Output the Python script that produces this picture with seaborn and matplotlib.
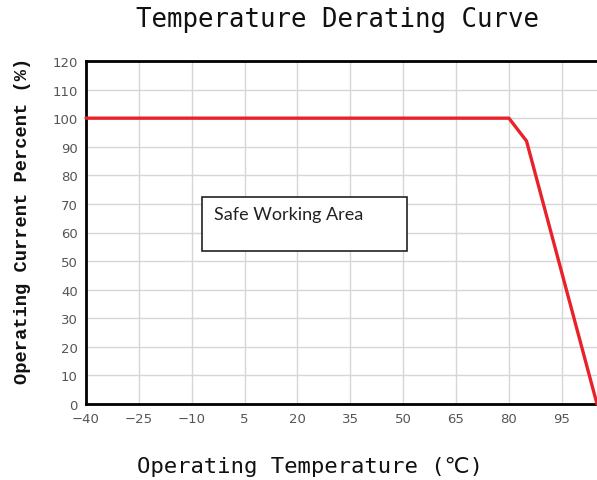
import numpy as np
import pandas as pd
import seaborn as sns
import matplotlib.pyplot as plt
from matplotlib.patches import Rectangle
plt.switch_backend('agg')

# derating curve
temperature = [-40, 80, 85, 105]
current_pct = [100, 100, 92, 0]
x_ticks = [-40, -25, -10, 5, 20, 35, 50, 65, 80, 95]
y_ticks = list(range(0, 121, 10))

df = pd.DataFrame({'Temperature': temperature, 'Current': current_pct})

sns.set_style('white')
fig = plt.figure(figsize=(5.97, 4.81), dpi=100)
ax = fig.add_axes([86 / 597, (481 - 405) / 481, 511 / 597, 343 / 481])

sns.lineplot(data=df, x='Temperature', y='Current', ax=ax, color='#e8222a',
             linewidth=2.4, sort=False, clip_on=False, zorder=5)

ax.set_xlim(-40, 105)
ax.set_ylim(0, 120)
ax.set_xticks(x_ticks)
ax.set_yticks(y_ticks)
ax.grid(True, color='#d6d6d6', linewidth=1)
ax.set_axisbelow(True)
ax.tick_params(axis='both', length=0, labelsize=9.5, labelcolor='#555555', pad=6)
for s in ['left', 'bottom', 'top']:
    ax.spines[s].set_color('black')
    ax.spines[s].set_linewidth(2)
ax.spines['right'].set_visible(False)
ax.set_xlabel('')
ax.set_ylabel('')

# safe working area box
ax.add_patch(Rectangle((-7, 53.5), 58, 19, facecolor='white', edgecolor='#222222',
                       linewidth=1.2, zorder=4))
ax.text(-3.7, 66.5, 'Safe Working Area', fontsize=13, family='Lato', color='#222222',
        va='center', ha='left', zorder=6)

fig.text(0.565, 0.958, 'Temperature Derating Curve', ha='center', va='center',
         fontsize=18.5, family=['DejaVu Sans Mono'], color='#111111')
fig.text(0.52, 0.029, 'Operating Temperature (℃)', ha='center', va='center',
         fontsize=16, family=['DejaVu Sans Mono', 'DejaVu Sans'], color='#111111')
fig.text(0.037, 0.54, 'Operating Current Percent (%)', ha='center', va='center',
         rotation=90, fontsize=13.5, family=['Liberation Mono'], fontweight='bold',
         color='#111111')

fig.savefig('out.png', dpi=100)
plt.close()
